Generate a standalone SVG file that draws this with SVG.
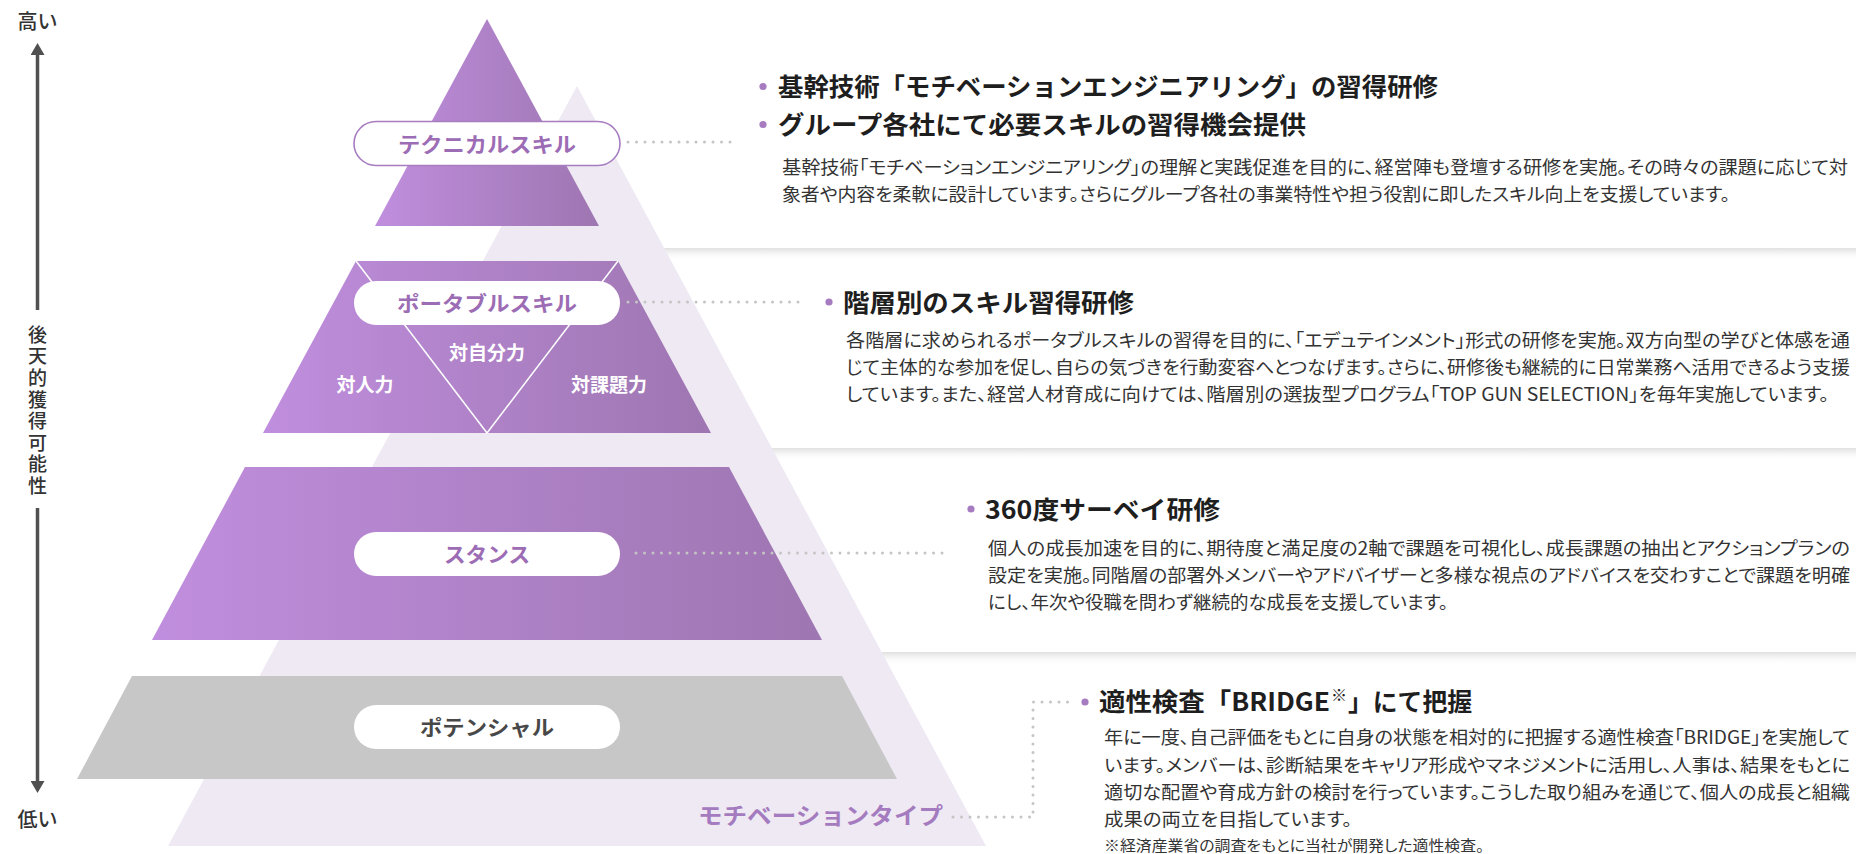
<svg xmlns="http://www.w3.org/2000/svg" width="1856" height="854" viewBox="0 0 1856 854">
<defs>
<linearGradient id="purp" x1="0" y1="0" x2="1" y2="0">
<stop offset="0" stop-color="#C08EDE"/>
<stop offset="1" stop-color="#9E76B1"/>
</linearGradient>
<linearGradient id="band" x1="0" y1="0" x2="0" y2="1">
<stop offset="0" stop-color="#E0E0E0"/>
<stop offset="1" stop-color="#FFFFFF" stop-opacity="0"/>
</linearGradient>
<marker id="ah" markerWidth="12" markerHeight="14" refX="0" refY="7" orient="auto-start-reverse" markerUnits="userSpaceOnUse" viewBox="0 0 12 14">
<path d="M0,0 L12,7 L0,14 Z" fill="#505050"/>
</marker>
<style>
text{font-family:"Noto Sans CJK JP","Noto Sans",sans-serif;}
.ttl{font-size:25px;font-weight:700;fill:#1E1E1E;}
.body{font-size:18px;font-weight:400;fill:#333333;font-feature-settings:"palt";}
.foot{font-size:14.5px;fill:#333333;font-feature-settings:"palt";}
.pill{fill:#FFFFFF;}
.pt{font-size:21px;font-weight:700;fill:#9C6CB5;text-anchor:middle;}
.inner{font-size:19px;font-weight:700;fill:#FFFFFF;text-anchor:middle;}
.axis{font-size:19px;font-weight:500;fill:#333333;text-anchor:middle;}
.dot{fill:#A67BC0;}
.conn{fill:none;stroke:#C5C5C5;stroke-width:3;stroke-linecap:round;stroke-dasharray:0 8.5;}
.lay{fill:url(#purp);}
</style>
</defs>
<rect width="1856" height="854" fill="#FFFFFF"/>

<g id="bands">
<rect x="600" y="248" width="1256" height="13" fill="url(#band)"/>
<rect x="700" y="448" width="1156" height="13" fill="url(#band)"/>
<rect x="820" y="652" width="1036" height="13" fill="url(#band)"/>
</g>

<g id="motivation-triangle">
<polygon points="577,86 986,846 168,846" fill="#EEE9F3"/>
</g>

<g id="axis">
<line x1="37.5" y1="55" x2="37.5" y2="310" stroke="#505050" stroke-width="3.5" marker-start="url(#ah)"/>
<line x1="37.5" y1="508" x2="37.5" y2="781" stroke="#505050" stroke-width="3.5" marker-end="url(#ah)"/>
<text class="axis" x="37.5" y="29" style="font-size:20px">高い</text>
<text class="axis" x="37.5" y="827" style="font-size:20px">低い</text>
<text x="37.5" y="325" style="writing-mode:vertical-rl;font-size:19px;font-weight:500;fill:#333333;letter-spacing:2.6px">後天的獲得可能性</text>
</g>

<g id="node-technical">
<polygon class="lay" points="487,19 599,226 375,226"/>
<rect class="pill" x="354" y="121.5" width="266" height="44" rx="22" stroke="#A77DC0" stroke-width="1.6"/>
<text class="pt" x="487" y="151.5" textLength="178" lengthAdjust="spacingAndGlyphs">テクニカルスキル</text>
</g>

<g id="node-portable">
<polygon class="lay" points="356,261 618,261 711,433 263,433"/>
<line x1="356" y1="261" x2="487" y2="433" stroke="#FFFFFF" stroke-width="1.5"/>
<line x1="618" y1="261" x2="487" y2="433" stroke="#FFFFFF" stroke-width="1.5"/>
<rect class="pill" x="354" y="281" width="266" height="44" rx="22"/>
<text class="pt" x="487" y="311" textLength="180" lengthAdjust="spacingAndGlyphs">ポータブルスキル</text>
<text class="inner" x="365" y="392">対人力</text>
<text class="inner" x="487" y="360">対自分力</text>
<text class="inner" x="609" y="392">対課題力</text>
</g>

<g id="node-stance">
<polygon class="lay" points="245,467 729,467 822,640 152,640"/>
<rect class="pill" x="354" y="532" width="266" height="44" rx="22"/>
<text class="pt" x="487" y="562" textLength="86" lengthAdjust="spacingAndGlyphs">スタンス</text>
</g>

<g id="node-potential">
<polygon points="132,676 842,676 897,779 77,779" fill="#C7C7C7"/>
<rect class="pill" x="354" y="705" width="266" height="44" rx="22"/>
<text class="pt" x="487" y="735" style="fill:#484848" textLength="134" lengthAdjust="spacingAndGlyphs">ポテンシャル</text>
</g>

<g id="node-motivation">
<text x="698" y="823.5" style="font-size:23px;font-weight:700;fill:#A57BBF" textLength="245" lengthAdjust="spacingAndGlyphs">モチベーションタイプ</text>
</g>

<g id="connectors">
<path class="conn" d="M628,142 H736"/>
<path class="conn" d="M628,302 H800"/>
<path class="conn" d="M636,553 H947"/>
<path class="conn" d="M953,817 H1033 V702 H1072"/>
</g>

<g id="section-technical">
<circle class="dot" cx="763" cy="86.5" r="3.6"/>
<circle class="dot" cx="763" cy="124.5" r="3.6"/>
<text class="ttl" x="778" y="96" textLength="660" lengthAdjust="spacingAndGlyphs">基幹技術「モチベーションエンジニアリング」の習得研修</text>
<text class="ttl" x="778" y="134" textLength="528" lengthAdjust="spacingAndGlyphs">グループ各社にて必要スキルの習得機会提供</text>
<text class="body" x="782" y="173.8" textLength="1066" lengthAdjust="spacingAndGlyphs">基幹技術「モチベーションエンジニアリング」の理解と実践促進を目的に、経営陣も登壇する研修を実施。その時々の課題に応じて対</text>
<text class="body" x="782" y="200.8" textLength="948" lengthAdjust="spacingAndGlyphs">象者や内容を柔軟に設計しています。さらにグループ各社の事業特性や担う役割に即したスキル向上を支援しています。</text>
</g>

<g id="section-portable">
<circle class="dot" cx="829" cy="302" r="3.6"/>
<text class="ttl" x="843" y="311.5" textLength="291" lengthAdjust="spacingAndGlyphs">階層別のスキル習得研修</text>
<text class="body" x="846" y="346.8" textLength="1004" lengthAdjust="spacingAndGlyphs">各階層に求められるポータブルスキルの習得を目的に、「エデュテインメント」形式の研修を実施。双方向型の学びと体感を通</text>
<text class="body" x="846" y="373.8" textLength="1004" lengthAdjust="spacingAndGlyphs">じて主体的な参加を促し、自らの気づきを行動変容へとつなげます。さらに、研修後も継続的に日常業務へ活用できるよう支援</text>
<text class="body" x="846" y="400.8" textLength="983" lengthAdjust="spacingAndGlyphs">しています。また、経営人材育成に向けては、階層別の選抜型プログラム「TOP GUN SELECTION」を毎年実施しています。</text>
</g>

<g id="section-stance">
<circle class="dot" cx="971" cy="509" r="3.6"/>
<text class="ttl" x="985" y="518.5" textLength="235" lengthAdjust="spacingAndGlyphs">360度サーベイ研修</text>
<text class="body" x="988" y="554.8" textLength="862" lengthAdjust="spacingAndGlyphs">個人の成長加速を目的に、期待度と満足度の2軸で課題を可視化し、成長課題の抽出とアクションプランの</text>
<text class="body" x="988" y="581.8" textLength="862" lengthAdjust="spacingAndGlyphs">設定を実施。同階層の部署外メンバーやアドバイザーと多様な視点のアドバイスを交わすことで課題を明確</text>
<text class="body" x="988" y="608.8" textLength="460" lengthAdjust="spacingAndGlyphs">にし、年次や役職を問わず継続的な成長を支援しています。</text>
</g>

<g id="section-potential">
<circle class="dot" cx="1085" cy="702" r="3.6"/>
<text class="ttl" x="1099" y="710.5" textLength="231" lengthAdjust="spacingAndGlyphs">適性検査「BRIDGE</text>
<text x="1331" y="701" style="font-size:16px;fill:#1E1E1E">※</text>
<text class="ttl" x="1348" y="710.5" textLength="124" lengthAdjust="spacingAndGlyphs">」にて把握</text>
<text class="body" x="1104" y="744.3" textLength="746" lengthAdjust="spacingAndGlyphs">年に一度、自己評価をもとに自身の状態を相対的に把握する適性検査「BRIDGE」を実施して</text>
<text class="body" x="1104" y="771.8" textLength="746" lengthAdjust="spacingAndGlyphs">います。メンバーは、診断結果をキャリア形成やマネジメントに活用し、人事は、結果をもとに</text>
<text class="body" x="1104" y="798.8" textLength="746" lengthAdjust="spacingAndGlyphs">適切な配置や育成方針の検討を行っています。こうした取り組みを通じて、個人の成長と組織</text>
<text class="body" x="1104" y="825.8" textLength="248" lengthAdjust="spacingAndGlyphs">成果の両立を目指しています。</text>
<text class="foot" x="1104" y="850.5" textLength="380" lengthAdjust="spacingAndGlyphs">※経済産業省の調査をもとに当社が開発した適性検査。</text>
</g>
</svg>
